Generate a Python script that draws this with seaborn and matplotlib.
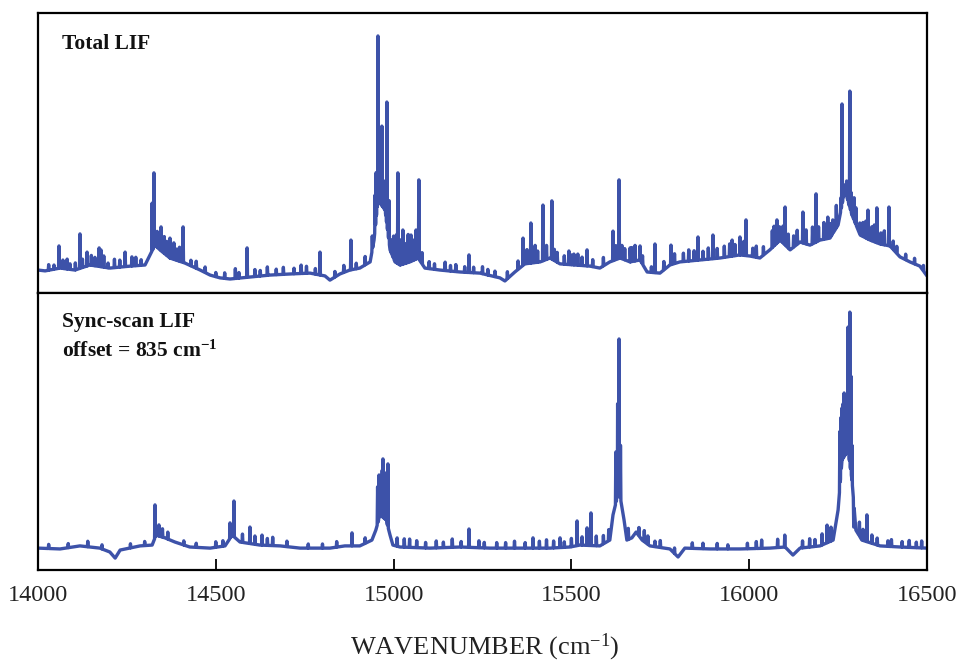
import numpy as np
import pandas as pd
import matplotlib
matplotlib.use("Agg")
import matplotlib.pyplot as plt
import seaborn as sns

# ---- Total LIF: slowly varying background (wavenumber, intensity) ----
total_base_wn = [14000, 14020, 14062, 14104, 14146, 14202, 14259, 14301, 14315, 14329,
                 14343, 14371, 14413, 14456, 14484, 14512, 14540, 14596, 14652, 14709,
                 14765, 14807, 14821, 14849, 14877, 14905, 14934, 14945, 14956, 14976,
                 14990, 15004, 15018, 15046, 15069, 15088, 15130, 15187, 15243, 15299,
                 15313, 15341, 15369, 15412, 15440, 15468, 15510, 15552, 15580, 15608,
                 15637, 15665, 15693, 15713, 15749, 15777, 15805, 15862, 15918, 15974,
                 16002, 16030, 16058, 16087, 16115, 16143, 16171, 16199, 16227, 16250,
                 16269, 16289, 16312, 16340, 16368, 16396, 16424, 16452, 16480, 16500]
total_base_int = [0.082, 0.079, 0.089, 0.082, 0.100, 0.089, 0.096, 0.100, 0.136, 0.171,
                  0.154, 0.125, 0.107, 0.082, 0.064, 0.054, 0.050, 0.057, 0.064, 0.068,
                  0.071, 0.061, 0.046, 0.068, 0.082, 0.089, 0.111, 0.189, 0.332, 0.296,
                  0.154, 0.111, 0.100, 0.111, 0.125, 0.089, 0.082, 0.075, 0.071, 0.054,
                  0.043, 0.075, 0.104, 0.111, 0.125, 0.104, 0.100, 0.096, 0.089, 0.111,
                  0.125, 0.111, 0.118, 0.075, 0.071, 0.100, 0.111, 0.118, 0.125, 0.136,
                  0.132, 0.125, 0.154, 0.189, 0.154, 0.182, 0.171, 0.189, 0.196, 0.243,
                  0.368, 0.279, 0.207, 0.189, 0.175, 0.168, 0.129, 0.111, 0.096, 0.061]

# ---- Total LIF: strong sharp lines (wavenumber, peak intensity) ----
total_line_wn = [14059, 14082, 14118, 14138, 14172, 14177, 14197, 14245, 14264, 14321,
                 14326, 14335, 14346, 14371, 14382, 14408, 14588, 14793, 14880, 14948,
                 14951, 14953, 14956, 14958, 14960, 14962, 14964, 14967, 14970, 14973,
                 14976, 14979, 14981, 14984, 14987, 14995, 15012, 15018, 15026, 15049,
                 15057, 15063, 15071, 15212, 15364, 15386, 15398, 15420, 15445, 15493,
                 15507, 15518, 15544, 15617, 15634, 15642, 15665, 15679, 15693, 15735,
                 15780, 15856, 15898, 15952, 15974, 15991, 16078, 16101, 16151, 16188,
                 16221, 16235, 16258, 16261, 16264, 16269, 16274, 16278, 16283, 16286,
                 16289, 16311, 16334, 16359, 16393]
total_line_int = [0.168, 0.121, 0.211, 0.146, 0.161, 0.154, 0.107, 0.146, 0.129, 0.321,
                  0.429, 0.220, 0.236, 0.196, 0.179, 0.236, 0.161, 0.146, 0.189, 0.350,
                  0.430, 0.400, 0.918, 0.450, 0.430, 0.475, 0.420, 0.596, 0.380, 0.360,
                  0.400, 0.350, 0.682, 0.300, 0.330, 0.190, 0.429, 0.190, 0.225, 0.207,
                  0.189, 0.225, 0.404, 0.136, 0.196, 0.250, 0.170, 0.314, 0.329, 0.150,
                  0.139, 0.139, 0.154, 0.221, 0.404, 0.170, 0.161, 0.170, 0.168, 0.175,
                  0.171, 0.200, 0.207, 0.189, 0.200, 0.261, 0.261, 0.307, 0.289, 0.354,
                  0.271, 0.261, 0.340, 0.675, 0.380, 0.386, 0.400, 0.370, 0.721, 0.360,
                  0.339, 0.250, 0.296, 0.304, 0.307]

# ---- Total LIF: weak lines (wavenumber, rise above background) ----
total_weak_wn = [14030, 14045, 14070, 14090, 14105, 14125, 14150, 14160, 14185, 14215,
                 14230, 14275, 14290, 14355, 14362, 14390, 14398, 14430, 14445, 14470,
                 14500, 14525, 14555, 14565, 14610, 14625, 14645, 14670, 14690, 14720,
                 14740, 14755, 14780, 14835, 14860, 14895, 14920, 14940, 15000, 15008,
                 15035, 15041, 15080, 15100, 15115, 15145, 15160, 15175, 15200, 15225,
                 15250, 15265, 15285, 15320, 15350, 15375, 15405, 15430, 15452, 15460,
                 15480, 15500, 15530, 15560, 15590, 15625, 15650, 15670, 15700, 15725,
                 15760, 15790, 15815, 15830, 15845, 15870, 15885, 15910, 15930, 15945,
                 15960, 15985, 16010, 16020, 16040, 16065, 16070, 16085, 16095, 16110,
                 16125, 16135, 16160, 16178, 16195, 16210, 16228, 16245, 16295, 16300,
                 16320, 16328, 16345, 16352, 16370, 16380, 16405, 16415, 16440, 16465,
                 16490]
total_weak_rise = [0.020, 0.015, 0.030, 0.020, 0.025, 0.030, 0.035, 0.030, 0.040, 0.030,
                   0.025, 0.030, 0.020, 0.060, 0.050, 0.040, 0.050, 0.020, 0.025, 0.020,
                   0.015, 0.020, 0.035, 0.020, 0.025, 0.020, 0.030, 0.020, 0.025, 0.020,
                   0.030, 0.025, 0.020, 0.020, 0.025, 0.020, 0.030, 0.050, 0.080, 0.100,
                   0.070, 0.100, 0.040, 0.025, 0.020, 0.030, 0.020, 0.025, 0.020, 0.020,
                   0.025, 0.020, 0.020, 0.025, 0.030, 0.050, 0.040, 0.050, 0.040, 0.035,
                   0.030, 0.035, 0.030, 0.025, 0.030, 0.050, 0.040, 0.050, 0.030, 0.020,
                   0.030, 0.035, 0.030, 0.040, 0.035, 0.030, 0.040, 0.035, 0.040, 0.045,
                   0.040, 0.050, 0.030, 0.040, 0.030, 0.060, 0.070, 0.050, 0.060, 0.050,
                   0.040, 0.050, 0.050, 0.060, 0.050, 0.060, 0.050, 0.080, 0.080, 0.060,
                   0.050, 0.060, 0.050, 0.060, 0.040, 0.050, 0.030, 0.025, 0.020, 0.020,
                   0.020]

# ---- Sync-scan LIF: background ----
sync_base_wn = [14000, 14062, 14118, 14174, 14202, 14217, 14231, 14287, 14321, 14332,
                14357, 14385, 14427, 14484, 14526, 14546, 14568, 14624, 14681, 14737,
                14821, 14863, 14905, 14939, 14950, 14962, 14979, 14990, 14998, 15018,
                15102, 15187, 15271, 15355, 15440, 15496, 15524, 15580, 15608, 15617,
                15634, 15648, 15656, 15670, 15682, 15699, 15721, 15777, 15800, 15819,
                15890, 15974, 16058, 16101, 16123, 16143, 16199, 16236, 16250, 16261,
                16278, 16289, 16300, 16317, 16368, 16424, 16500]
sync_base_int = [0.079, 0.076, 0.087, 0.079, 0.065, 0.043, 0.072, 0.087, 0.090, 0.126,
                 0.116, 0.101, 0.083, 0.079, 0.087, 0.126, 0.101, 0.090, 0.087, 0.079,
                 0.079, 0.087, 0.087, 0.108, 0.144, 0.199, 0.181, 0.126, 0.090, 0.083,
                 0.079, 0.083, 0.079, 0.079, 0.079, 0.083, 0.090, 0.087, 0.108, 0.199,
                 0.289, 0.181, 0.108, 0.116, 0.137, 0.108, 0.087, 0.076, 0.047, 0.079,
                 0.076, 0.076, 0.079, 0.083, 0.054, 0.079, 0.087, 0.108, 0.217, 0.397,
                 0.433, 0.325, 0.144, 0.108, 0.087, 0.083, 0.079]

# ---- Sync-scan LIF: strong sharp lines ----
sync_line_wn = [14329, 14540, 14551, 14596, 14630, 14883, 14955, 14959, 14962, 14965,
                14968, 14970, 14974, 14977, 14980, 14984, 15212, 15392, 15468, 15516,
                15544, 15555, 15625, 15628, 15630, 15634, 15636, 15638, 15715, 16100,
                16219, 16255, 16258, 16261, 16264, 16267, 16270, 16272, 16275, 16278,
                16280, 16283, 16286, 16289, 16294, 16331]
sync_line_int = [0.235, 0.170, 0.249, 0.155, 0.126, 0.134, 0.300, 0.343, 0.320, 0.330,
                 0.360, 0.401, 0.340, 0.350, 0.300, 0.383, 0.148, 0.116, 0.116, 0.177,
                 0.152, 0.206, 0.426, 0.420, 0.600, 0.834, 0.420, 0.450, 0.123, 0.126,
                 0.162, 0.500, 0.550, 0.585, 0.600, 0.639, 0.580, 0.600, 0.567, 0.877,
                 0.550, 0.931, 0.700, 0.450, 0.155, 0.199]

# ---- Sync-scan LIF: weak lines (rise above background) ----
sync_weak_wn = [14030, 14085, 14140, 14180, 14260, 14300, 14340, 14350, 14365, 14410,
                14445, 14500, 14520, 14575, 14610, 14645, 14660, 14700, 14760, 14800,
                14840, 14920, 15010, 15030, 15045, 15065, 15090, 15120, 15140, 15165,
                15190, 15240, 15255, 15290, 15315, 15340, 15370, 15410, 15430, 15450,
                15480, 15500, 15530, 15570, 15590, 15605, 15660, 15690, 15705, 15735,
                15750, 15790, 15840, 15870, 15910, 15940, 15995, 16020, 16035, 16080,
                16150, 16170, 16185, 16205, 16230, 16310, 16320, 16345, 16360, 16390,
                16400, 16430, 16450, 16470, 16485]
sync_weak_rise = [0.015, 0.015, 0.020, 0.015, 0.015, 0.015, 0.040, 0.030, 0.025, 0.015,
                  0.015, 0.020, 0.020, 0.030, 0.030, 0.025, 0.030, 0.020, 0.015, 0.015,
                  0.020, 0.020, 0.030, 0.030, 0.030, 0.025, 0.020, 0.025, 0.020, 0.030,
                  0.020, 0.025, 0.020, 0.020, 0.020, 0.025, 0.020, 0.025, 0.030, 0.025,
                  0.020, 0.030, 0.030, 0.035, 0.030, 0.040, 0.040, 0.030, 0.040, 0.020,
                  0.025, 0.020, 0.020, 0.020, 0.020, 0.015, 0.020, 0.025, 0.030, 0.030,
                  0.025, 0.030, 0.025, 0.040, 0.050, 0.050, 0.040, 0.030, 0.025, 0.020,
                  0.025, 0.020, 0.025, 0.020, 0.025]

x_ticks = [14000, 14500, 15000, 15500, 16000, 16500]
LINE_COLOR = "#3d52a9"


def spectrum_frame(base_wn, base_int, line_wn, line_int, weak_wn, weak_rise,
                   half_width=1.2):
    """Merge background knots, strong lines and weak lines into one ordered trace."""
    bw = np.asarray(base_wn, float)
    bi = np.asarray(base_int, float)
    ww = np.asarray(weak_wn, float)
    tops_wn = np.concatenate([np.asarray(line_wn, float), ww])
    tops = np.concatenate([np.asarray(line_int, float),
                           np.interp(ww, bw, bi) + np.asarray(weak_rise, float)])
    left = tops_wn - half_width
    right = tops_wn + half_width
    xs = np.concatenate([bw, left, tops_wn, right])
    ys = np.concatenate([bi, np.interp(left, bw, bi), tops, np.interp(right, bw, bi)])
    order = np.argsort(xs, kind="stable")
    return pd.DataFrame({"wavenumber": xs[order], "intensity": ys[order]})


total_df = spectrum_frame(total_base_wn, total_base_int, total_line_wn, total_line_int,
                          total_weak_wn, total_weak_rise)
sync_df = spectrum_frame(sync_base_wn, sync_base_int, sync_line_wn, sync_line_int,
                         sync_weak_wn, sync_weak_rise)

sns.set_theme(style="white")
plt.rcParams["font.family"] = ["Liberation Serif", "DejaVu Serif"]
plt.rcParams["mathtext.fontset"] = "custom"
plt.rcParams["mathtext.rm"] = "Liberation Serif"
plt.rcParams["mathtext.bf"] = "Liberation Serif:bold"
plt.rcParams["mathtext.default"] = "regular"

fig = plt.figure(figsize=(9.61, 6.64), dpi=100)
left, width = 38 / 961, 889 / 961
ax_top = fig.add_axes([left, 1 - 293 / 664, width, 280 / 664])
ax_bot = fig.add_axes([left, 1 - 570 / 664, width, 277 / 664])

for ax, df in ((ax_top, total_df), (ax_bot, sync_df)):
    sns.lineplot(data=df, x="wavenumber", y="intensity", ax=ax, estimator=None,
                 sort=False, color=LINE_COLOR, linewidth=2.4)
    ax.set_xlim(14000, 16500)
    ax.set_ylim(0, 1)
    ax.set_yticks([])
    ax.set_ylabel("")
    ax.set_xlabel("")
    for s in ax.spines.values():
        s.set_color("black")
        s.set_linewidth(1.6)
        s.set_visible(True)

ax_top.set_xticks([])

ax_bot.set_xticks(x_ticks)
ax_bot.set_xticklabels([str(t) for t in x_ticks])
ax_bot.tick_params(axis="x", direction="in", length=8, width=1.3, color="black",
                   labelsize=17.5, pad=11, bottom=True, top=False, labelcolor="#222222")
fig.text(485 / 961, 1 - 654 / 664, "WAVENUMBER (cm$^{-1}$)", fontsize=19,
         ha="center", va="baseline", color="#222222")

ax_top.text(0.027, 0.925, "Total LIF", transform=ax_top.transAxes, fontsize=15.5,
            fontweight="bold", va="top", ha="left", color="#111111")
ax_bot.text(0.027, 0.932, "Sync-scan LIF", transform=ax_bot.transAxes, fontsize=15.5,
            fontweight="bold", va="top", ha="left", color="#111111")
ax_bot.text(0.027, 0.827, "offset = 835 cm$^{-1}$", transform=ax_bot.transAxes,
            fontsize=15.5, fontweight="bold", va="top", ha="left", color="#111111")

fig.savefig("out.png", dpi=100, facecolor="white")
